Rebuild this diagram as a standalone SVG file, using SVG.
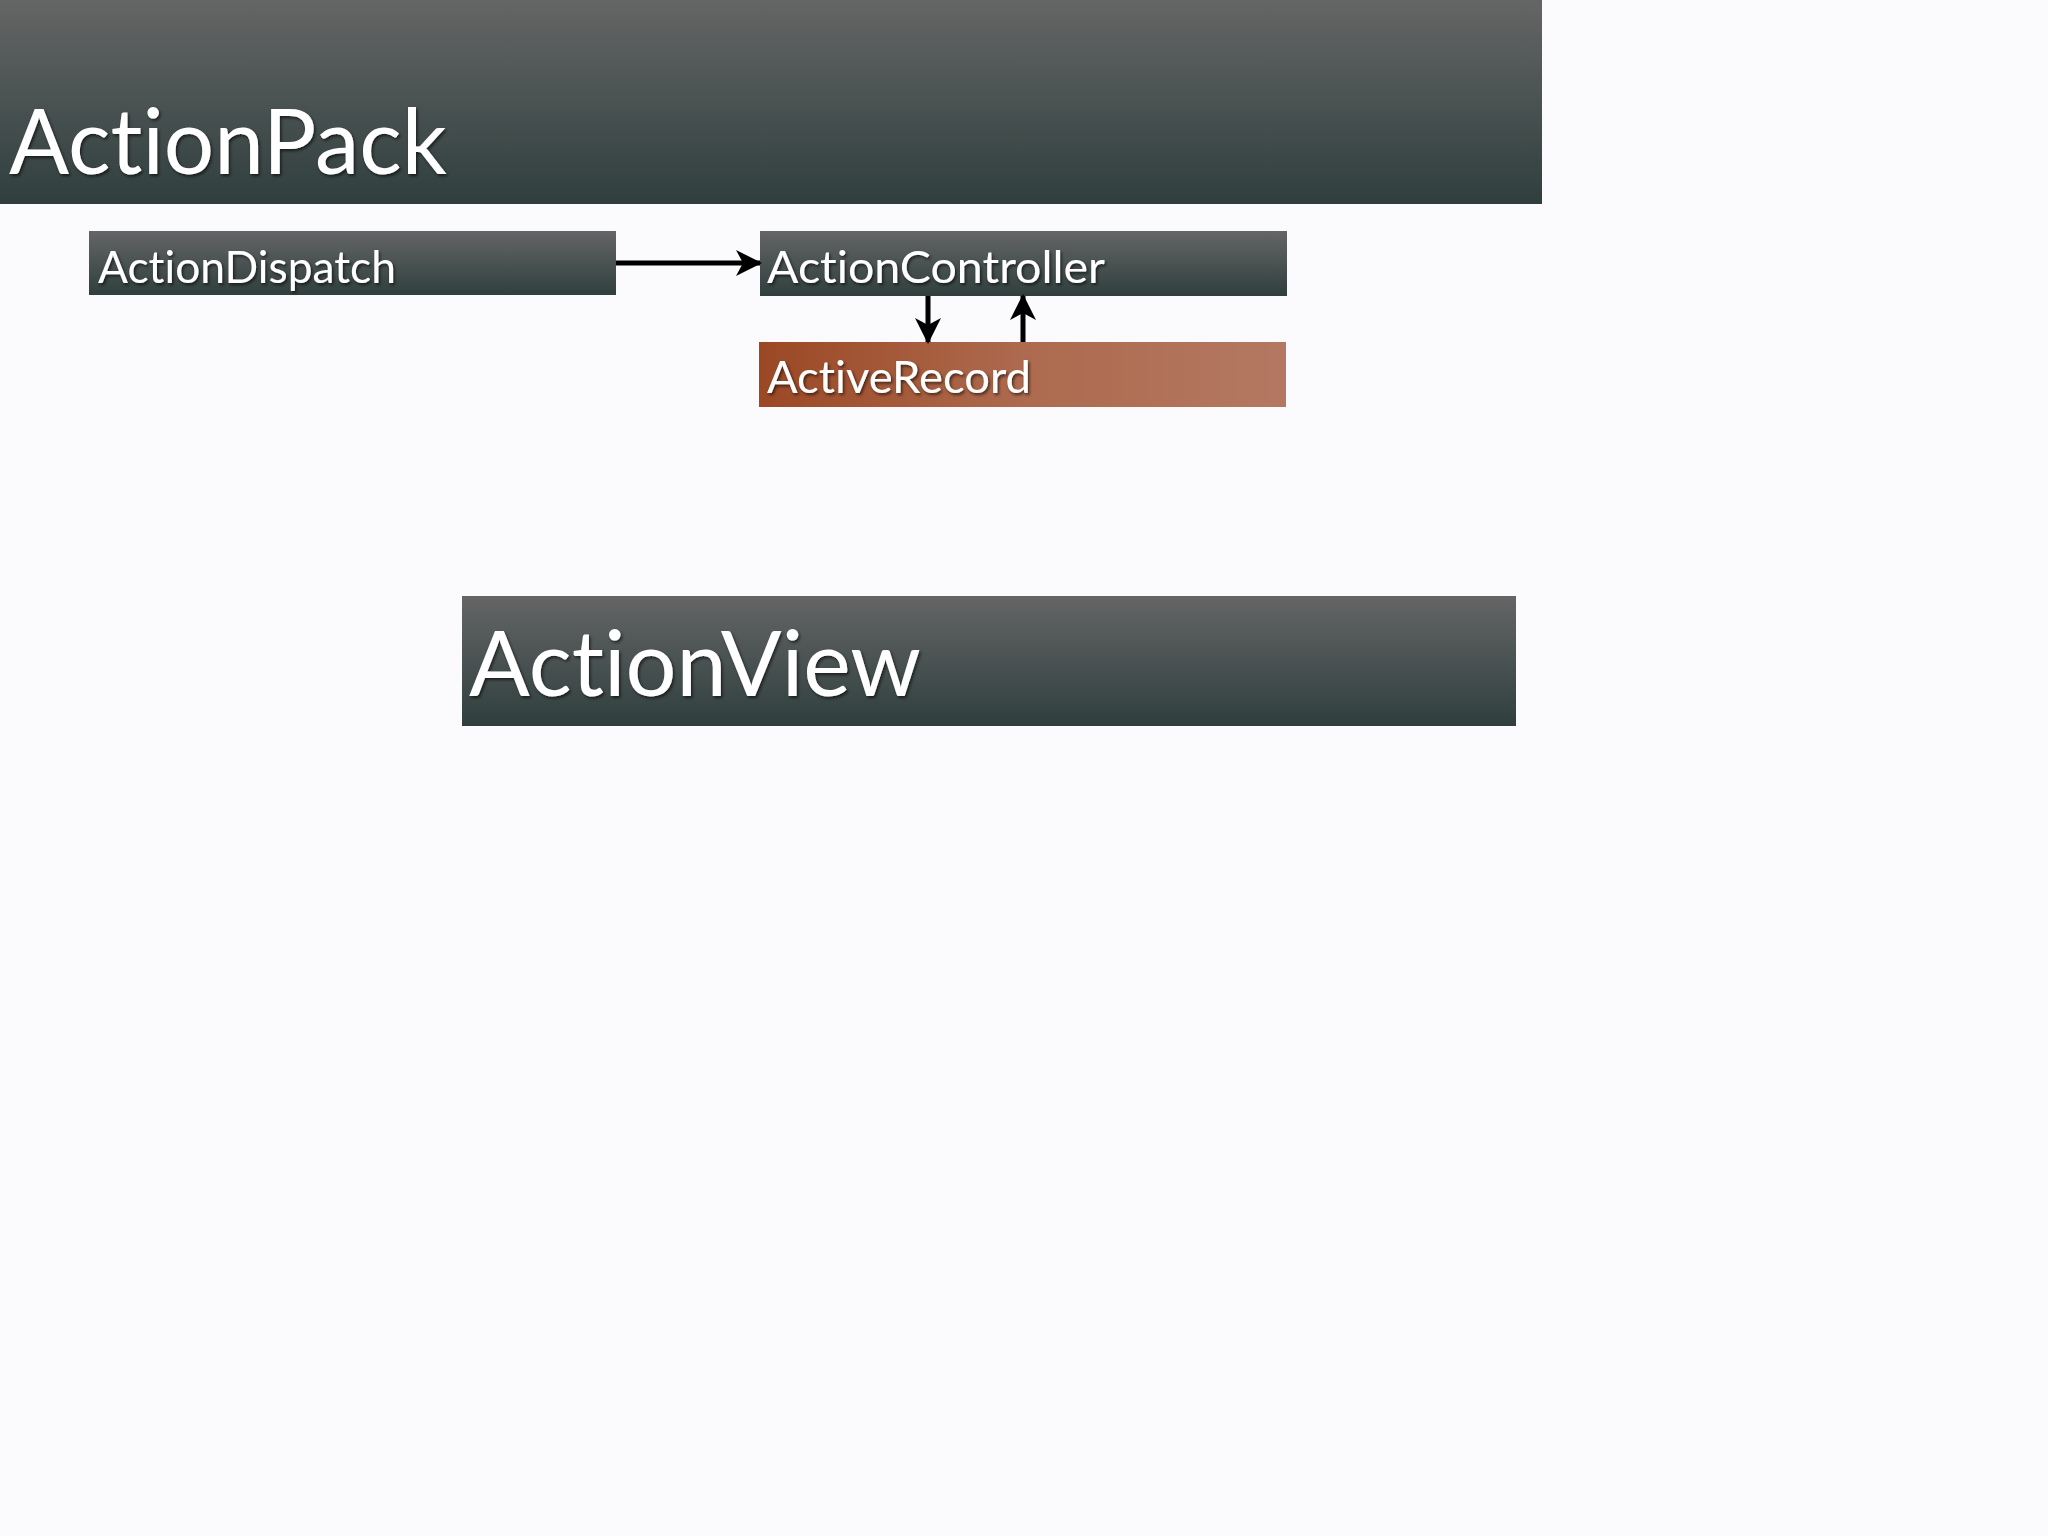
<svg xmlns="http://www.w3.org/2000/svg" width="2048" height="1536" viewBox="0 0 2048 1536">
<defs>
<linearGradient id="dark" x1="0" y1="0" x2="0" y2="1">
<stop offset="0" stop-color="#656565"/>
<stop offset="0.5" stop-color="#4a5252"/>
<stop offset="1" stop-color="#2f3f3d"/>
</linearGradient>
<linearGradient id="rust" x1="0" y1="0" x2="1" y2="0">
<stop offset="0" stop-color="#9b4824"/>
<stop offset="0.5" stop-color="#ad6a4e"/>
<stop offset="1" stop-color="#b47862"/>
</linearGradient>
<filter id="sh" x="-5%" y="-20%" width="110%" height="150%">
<feDropShadow dx="1.5" dy="2" stdDeviation="1.5" flood-color="#000" flood-opacity="0.6"/>
</filter>
<marker id="ah" viewBox="0 0 26 26" refX="24" refY="13" markerWidth="26" markerHeight="26" markerUnits="userSpaceOnUse" orient="auto">
<path d="M0,0 L26,13 L0,26 L7,13 Z" fill="#000"/>
</marker>
</defs>
<style>
text{font-family:Lato,"Open Sans","Liberation Sans",sans-serif;fill:#fff;filter:url(#sh);font-variant-ligatures:none;font-feature-settings:"liga" 0}
.big{font-size:92px}
.small{font-size:45px}
.conn{stroke:#000;stroke-width:5;fill:none}
</style>
<rect width="2048" height="1536" fill="#fbfafc"/>
<g id="actionpack">
<rect x="0" y="0" width="1542" height="204" fill="url(#dark)"/>
<text class="big" x="9" y="174" textLength="438" lengthAdjust="spacingAndGlyphs">ActionPack</text>
</g>
<g id="actiondispatch">
<rect x="89" y="231" width="527" height="64" fill="url(#dark)"/>
<text class="small" x="98" y="283" textLength="298" lengthAdjust="spacingAndGlyphs">ActionDispatch</text>
</g>
<g id="actioncontroller">
<rect x="760" y="231" width="527" height="65" fill="url(#dark)"/>
<text class="small" x="767" y="283" textLength="338" lengthAdjust="spacingAndGlyphs">ActionController</text>
</g>
<g id="activerecord">
<rect x="759" y="342" width="527" height="65" fill="url(#rust)"/>
<text class="small" x="767" y="393" textLength="264" lengthAdjust="spacingAndGlyphs">ActiveRecord</text>
</g>
<g id="actionview">
<rect x="462" y="596" width="1054" height="130" fill="url(#dark)"/>
<text class="big" x="469" y="696" textLength="452" lengthAdjust="spacingAndGlyphs">ActionView</text>
</g>
<g id="connectors">
<line class="conn" x1="616" y1="263" x2="760" y2="263" marker-end="url(#ah)"/>
<line class="conn" x1="928" y1="296" x2="928" y2="342" marker-end="url(#ah)"/>
<line class="conn" x1="1023" y1="342" x2="1023" y2="296" marker-end="url(#ah)"/>
</g>
</svg>
